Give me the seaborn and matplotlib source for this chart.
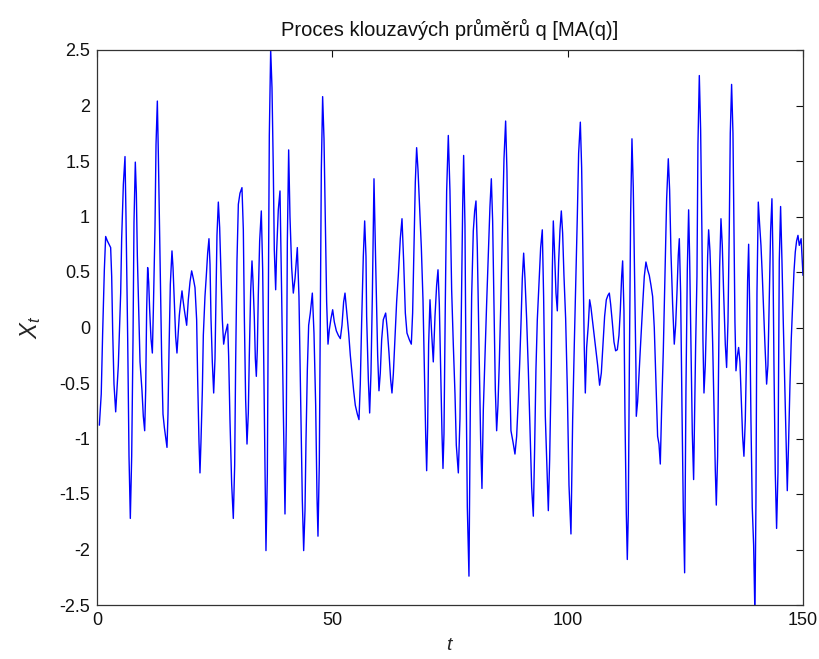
import numpy as np
import pandas as pd
import matplotlib
matplotlib.use("Agg")
import matplotlib.pyplot as plt
import seaborn as sns

title_text = "Proces klouzavých průměrů q [MA(q)]"
xlabel_text = "$t$"
ylabel_text = "$X_t$"
xticks = [0, 50, 100, 150]
xtick_labels = ["0", "50", "100", "150"]
yticks = [-2.5, -2, -1.5, -1, -0.5, 0, 0.5, 1, 1.5, 2, 2.5]
ytick_labels = ["-2.5", "-2", "-1.5", "-1", "-0.5", "0", "0.5", "1", "1.5", "2", "2.5"]

t1 = [0.5, 0.9, 1.2, 1.56, 1.84, 2.2, 2.55, 2.9, 3.12, 3.33,
      3.61, 3.97, 4.18, 4.53, 4.74, 5.03, 5.24, 5.6, 5.95, 6.16,
      6.52, 6.8, 7.08, 7.37, 7.65, 7.86, 8.14, 8.36, 8.57, 8.85,
      9.14, 9.56, 9.84, 10.13, 10.34, 10.55, 10.76, 10.98, 11.19, 11.47,
      11.76, 11.97, 12.32, 12.54, 12.82, 13.03, 13.38, 13.74, 14.02, 14.31,
      14.73, 14.87, 15.08, 15.3, 15.58, 15.93, 16.15, 16.43, 16.71, 16.99,
      17.21, 17.49, 17.78, 18.06, 18.27, 18.55, 18.84]
x1 = [-0.88, -0.60, -0.05, 0.52, 0.82, 0.78, 0.75, 0.72, 0.46, -0.03,
      -0.51, -0.76, -0.60, -0.34, -0.07, 0.31, 0.80, 1.29, 1.54, 1.00,
      -0.10, -1.16, -1.72, -1.16, -0.11, 0.95, 1.49, 1.21, 0.65, 0.18,
      -0.31, -0.57, -0.80, -0.93, -0.57, 0.16, 0.54, 0.41, 0.16, -0.10,
      -0.23, 0.15, 0.90, 1.65, 2.04, 1.57, 0.64, -0.28, -0.78, -0.90,
      -1.03, -1.08, -0.78, -0.21, 0.39, 0.69, 0.54, 0.23, -0.08, -0.23,
      -0.08, 0.11, 0.23, 0.33, 0.25, 0.16, 0.08]

t2 = [19.05, 19.4, 19.76, 20.11, 20.47, 20.82, 21.17, 21.39, 21.67, 21.88,
      22.09, 22.38, 22.59, 22.94, 23.23, 23.51, 23.79, 24.01, 24.22, 24.5,
      24.79, 25.07, 25.28, 25.49, 25.78, 26.06, 26.34, 26.63, 26.91, 27.19,
      27.48, 27.76, 27.97, 28.25, 28.61, 28.96, 29.25, 29.46, 29.74, 30.03,
      30.38, 30.8, 31.09, 31.3, 31.58, 31.87, 32.15, 32.36, 32.65, 32.93,
      33.14, 33.43, 33.64, 33.85, 34.06, 34.27, 34.56, 34.91, 35.2, 35.48,
      35.69, 35.9, 36.19, 36.4, 36.61, 36.9, 37.18, 37.46, 37.67, 37.96]
x2 = [0.02, 0.25, 0.41, 0.51, 0.44, 0.36, 0.07, -0.47, -1.03, -1.31,
      -1.03, -0.57, -0.07, 0.28, 0.47, 0.67, 0.80, 0.57, 0.08, -0.31,
      -0.59, -0.28, 0.28, 0.83, 1.13, 0.90, 0.49, 0.07, -0.15, -0.07,
      -0.02, 0.03, -0.26, -0.83, -1.41, -1.72, -1.24, -0.31, 0.60, 1.11,
      1.21, 1.26, 0.88, 0.11, -0.65, -1.05, -0.77, -0.25, 0.33, 0.60,
      0.42, 0.08, -0.28, -0.44, -0.20, 0.29, 0.78, 1.05, 0.52, -0.52,
      -1.32, -2.01, -1.32, 0.29, 1.73, 2.50, 2.16, 1.42, 0.70, 0.34]

t3 = [38.17, 38.52, 38.88, 39.23, 39.59, 39.94, 40.22, 40.44, 40.72, 41.0,
      41.36, 41.71, 42.07, 42.56, 42.91, 43.27, 43.62, 43.91, 44.19, 44.4,
      44.69, 44.97, 45.32, 45.75, 46.1, 46.46, 46.74, 46.95, 47.23, 47.45,
      47.66, 47.94, 48.23, 48.51, 48.79, 49.08, 49.36, 49.71, 50.07, 50.42,
      50.85, 51.27, 51.7, 52.05, 52.4, 52.69, 53.04, 53.47, 53.82, 54.17,
      54.53, 54.88, 55.31, 55.66, 55.94, 56.23, 56.58, 56.87, 57.15]
x3 = [0.69, 1.06, 1.23, 0.30, -0.75, -1.68, -0.87, 0.77, 1.60, 1.00,
      0.54, 0.31, 0.44, 0.72, 0.28, -0.64, -1.55, -2.01, -1.65, -1.03,
      -0.38, 0.02, 0.13, 0.31, -0.05, -0.70, -1.52, -1.88, -1.23, 0.08,
      1.42, 2.08, 1.70, 0.96, 0.23, -0.15, -0.02, 0.08, 0.16, 0.05,
      -0.03, -0.07, -0.10, 0.02, 0.23, 0.31, 0.15, -0.05, -0.25, -0.41,
      -0.57, -0.70, -0.78, -0.83, -0.51, 0.05, 0.64, 0.96, 0.64]

t4 = [57.29, 57.65, 57.93, 58.21, 58.5, 58.85, 59.2, 59.63, 59.91, 60.19,
      60.48, 60.83, 61.33, 61.68, 62.04, 62.39, 62.67, 62.96, 63.31, 63.66,
      64.02, 64.44, 64.8, 65.15, 65.51, 65.86, 66.36, 66.78, 67.06, 67.35,
      67.63, 67.91, 68.2, 68.55, 68.91, 69.26, 69.54, 69.83, 70.04, 70.25,
      70.46, 70.75, 71.1, 71.45, 71.81, 72.16, 72.45, 72.73, 73.01, 73.3,
      73.51, 73.72, 74.0, 74.29, 74.64, 74.99, 75.35, 75.7, 76.06, 76.34]
x4 = [0.10, -0.47, -0.77, -0.41, 0.28, 1.34, 0.60, -0.25, -0.57, -0.41,
      -0.11, 0.07, 0.13, -0.02, -0.23, -0.47, -0.59, -0.42, -0.10, 0.23,
      0.47, 0.80, 0.98, 0.60, 0.13, -0.05, -0.11, -0.15, 0.13, 0.72,
      1.31, 1.62, 1.42, 1.08, 0.72, 0.25, -0.36, -0.96, -1.29, -0.90,
      -0.15, 0.25, -0.05, -0.31, 0.10, 0.38, 0.52, 0.21, -0.38, -0.96,
      -1.27, -0.96, 0.21, 1.23, 1.73, 1.23, 0.34, -0.15, -0.60, -1.06]

t5 = [76.77, 77.12, 77.4, 77.69, 77.9, 78.18, 78.39, 78.68, 79.03, 79.31,
      79.6, 79.95, 80.24, 80.52, 80.8, 81.16, 81.51, 81.79, 82.08, 82.43,
      82.78, 83.14, 83.49, 83.78, 84.06, 84.34, 84.63, 84.91, 85.19, 85.48,
      85.76, 86.11, 86.47, 86.82, 87.1, 87.39, 87.67, 87.95, 88.38, 88.8,
      89.16, 89.51, 89.8, 90.08, 90.36, 90.65, 90.93, 91.28, 91.64, 91.99,
      92.35, 92.7, 92.98, 93.26, 93.55, 93.9, 94.26, 94.61, 94.89, 95.25]
x5 = [-1.31, -0.82, 0.11, 1.08, 1.55, 0.92, -0.34, -1.62, -2.24, -0.74,
      0.28, 0.87, 1.05, 1.14, 0.72, -0.16, -1.01, -1.45, -0.74, -0.26,
      0.21, 0.65, 1.09, 1.34, 0.96, 0.20, -0.56, -0.93, -0.70, -0.31,
      0.16, 0.83, 1.52, 1.86, 1.41, 0.47, -0.42, -0.93, -1.03, -1.14,
      -0.98, -0.65, -0.33, 0.03, 0.44, 0.67, 0.44, 0.08, -0.38, -0.92,
      -1.44, -1.70, -1.09, -0.38, 0.07, 0.39, 0.72, 0.88, 0.28, -0.80]

t6 = [95.89, 96.17, 96.52, 96.74, 96.95, 97.16, 97.52, 97.8, 98.08, 98.37,
      98.65, 98.93, 99.21, 99.57, 99.92, 100.28, 100.7, 101.06, 101.41, 101.76,
      102.05, 102.33, 102.69, 102.97, 103.25, 103.53, 103.75, 104.03, 104.38, 104.67,
      104.95, 105.3, 105.66, 106.01, 106.37, 106.79, 107.15, 107.5, 107.85, 108.21,
      108.56, 108.85, 109.13, 109.48, 109.84, 110.19, 110.55, 110.9, 111.18, 111.47,
      111.68, 111.96, 112.17, 112.46, 112.67, 112.88, 113.1, 113.38, 113.66, 113.94,
      114.23, 114.51]
x6 = [-1.65, -1.19, -0.34, 0.52, 0.96, 0.74, 0.31, 0.15, 0.59, 0.88,
      1.05, 0.85, 0.47, 0.08, -0.54, -1.42, -1.86, -0.83, -0.15, 0.46,
      1.00, 1.57, 1.85, 1.44, 0.60, -0.18, -0.59, -0.18, 0.02, 0.25,
      0.18, 0.05, -0.08, -0.21, -0.34, -0.52, -0.41, -0.16, 0.10, 0.25,
      0.29, 0.31, 0.21, 0.05, -0.13, -0.21, -0.20, -0.07, 0.15, 0.46,
      0.60, 0.15, -0.78, -1.68, -2.09, -1.68, -0.38, 1.03, 1.70, 1.26,
      0.44, -0.38]

t7 = [114.58, 114.86, 115.15, 115.43, 115.71, 116.0, 116.28, 116.63, 116.99, 117.34,
      117.7, 118.05, 118.4, 118.76, 119.11, 119.4, 119.68, 119.96, 120.32, 120.67,
      121.03, 121.38, 121.66, 121.95, 122.3, 122.65, 122.94, 123.22, 123.5, 123.72,
      124.0, 124.28, 124.57, 124.85, 125.13, 125.42, 125.7, 125.91, 126.2, 126.48,
      126.76, 126.97, 127.19, 127.47, 127.68, 127.97, 128.25, 128.53, 128.74, 128.96,
      129.24, 129.52, 129.74, 129.95, 130.23, 130.51, 130.8, 131.08, 131.37, 131.58,
      131.86, 132.07, 132.29, 132.57, 132.85, 133.14, 133.49]
x7 = [-0.80, -0.67, -0.44, -0.20, 0.03, 0.25, 0.46, 0.59, 0.52, 0.47,
      0.38, 0.28, 0.00, -0.49, -0.98, -1.05, -1.23, -0.74, -0.21, 0.46,
      1.16, 1.52, 1.24, 0.67, 0.21, -0.15, 0.02, 0.31, 0.65, 0.80,
      0.31, -0.70, -1.65, -2.21, -0.57, 0.52, 1.06, 0.64, -0.15, -0.95,
      -1.37, -0.77, -0.16, 0.46, 1.65, 2.27, 1.78, 0.83, -0.11, -0.59,
      -0.34, 0.13, 0.64, 0.88, 0.69, 0.34, -0.13, -0.72, -1.29, -1.60,
      -1.16, -0.31, 0.54, 0.98, 0.74, 0.31, -0.15]

t8 = [133.77, 134.06, 134.34, 134.55, 134.83, 135.12, 135.33, 135.54, 135.76, 136.04,
      136.32, 136.6, 136.89, 137.17, 137.45, 137.74, 138.02, 138.23, 138.45, 138.66,
      138.94, 139.22, 139.51, 139.79, 140.0, 140.22, 140.5, 140.78, 141.07, 141.35,
      141.63, 141.92, 142.27, 142.55, 142.84, 143.12, 143.4, 143.61, 143.83, 144.11,
      144.39, 144.68, 144.96, 145.24, 145.53, 145.81, 146.09, 146.38, 146.66, 146.94,
      147.23, 147.51, 147.79, 148.08, 148.36, 148.64, 148.93, 149.21, 149.6, 150.0]
x8 = [-0.36, 0.05, 0.90, 1.75, 2.19, 1.75, 0.90, 0.05, -0.39, -0.26,
      -0.18, -0.31, -0.64, -0.98, -1.16, -0.83, -0.21, 0.42, 0.75, 0.21,
      -0.83, -1.62, -1.96, -2.60, -1.58, 0.31, 1.13, 0.93, 0.74, 0.47,
      0.15, -0.16, -0.51, -0.34, 0.28, 0.87, 1.16, 0.65, -0.34, -1.31,
      -1.81, -1.31, 0.60, 1.09, 0.60, 0.05, -0.44, -0.96, -1.47, -1.03,
      -0.51, -0.10, 0.20, 0.50, 0.68, 0.78, 0.83, 0.74, 0.80, 0.47]

t_all = t1 + t2 + t3 + t4 + t5 + t6 + t7 + t8
x_all = x1 + x2 + x3 + x4 + x5 + x6 + x7 + x8
df = pd.DataFrame({"t": t_all, "X": x_all})

sns.set_style("white")
plt.rcParams["font.family"] = ["Liberation Sans", "DejaVu Sans"]
plt.rcParams["mathtext.fontset"] = "custom"
plt.rcParams["mathtext.it"] = "Liberation Sans:italic"
plt.rcParams["mathtext.rm"] = "Liberation Sans"

fig = plt.figure(figsize=(8.2, 6.59), dpi=100)
ax = fig.add_axes([97 / 820, 54 / 659, 706 / 820, 555 / 659])
sns.lineplot(data=df, x="t", y="X", sort=False, estimator=None,
             color="#0000ff", linewidth=1.0, ax=ax)

ax.set_xlim(0, 150)
ax.set_ylim(-2.5, 2.5)
ax.set_xticks(xticks)
ax.set_xticklabels(xtick_labels)
ax.set_yticks(yticks)
ax.set_yticklabels(ytick_labels)
ax.tick_params(direction="in", length=5, width=0.8, top=True, right=True,
               labelsize=13, colors="#111111", pad=5)
for s in ax.spines.values():
    s.set_visible(True)
    s.set_color("#333333")
    s.set_linewidth(0.9)

ax.set_title(title_text, fontsize=14.5, color="#111111", pad=10)
ax.set_xlabel(xlabel_text, fontsize=14, labelpad=6)
ax.set_ylabel(ylabel_text, fontsize=17, labelpad=12)

fig.savefig("out.png", dpi=100, facecolor="white")
